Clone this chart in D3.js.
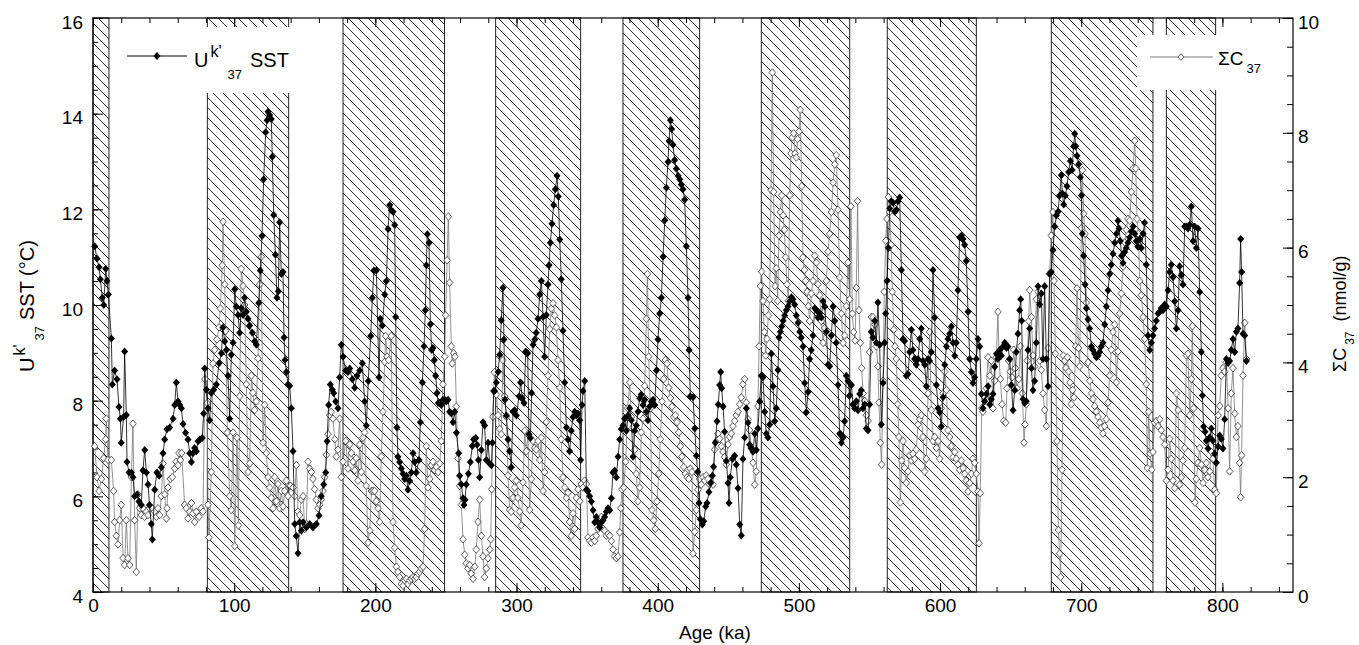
<!DOCTYPE html>
<html lang="en">
<head>
<meta charset="utf-8">
<title>Uk'37 SST and sum C37</title>
<script src="https://d3js.org/d3.v7.min.js"></script>
<style>
  body { margin: 0; background: #fff; }
  svg text { font-family: "Liberation Sans", Arial, sans-serif; fill: #000; }
</style>
</head>
<body>
<script>
// hatched intervals (ka)
const bandStart = [0, 81.0, 177.1, 285.2, 375.4, 473.4, 562.6, 678.8, 760.3];
const bandEnd   = [11.3, 138.6, 249.0, 345.4, 429.7, 536.0, 625.7, 750.8, 795.2];

// tick labels
const xLabels = [0, 100, 200, 300, 400, 500, 600, 700, 800];
const sstLabels = [4, 6, 8, 10, 12, 14, 16];
const c37Labels = [0, 2, 4, 6, 8, 10];

// Uk'37 SST (°C): [age ka, value]
const sst = [
[1.2,11.23],[2.8,10.97],[4.3,10.79],[5.2,10.54],[6.6,10.15],[7.6,10.0],[9.0,10.76],[9.9,10.5],[10.9,10.22],[13,9.3],[13.7,8.34],[15.3,8.63],[17,8.45],[18.4,7.87],[19.4,7.62],[20,7.12],[21.7,7.66],[22.4,9.03],[23.6,7.7],[24.1,6.72],[25.5,6.5],[27.2,6.5],[28.3,6.4],[29.5,6.0],[31.2,6.04],[32.6,5.89],[34.2,5.82],[35.4,6.54],[36.6,6.97],[37.8,6.5],[39,6.25],[40,5.82],[41.3,5.42],[42,5.1],[43.7,6.14],[45.3,6.5],[46.8,6.43],[48.4,6.61],[49.6,6.9],[50.8,7.19],[52.4,7.4],[54.3,7.44],[56.7,7.62],[57.9,7.91],[59,8.38],[60.2,7.98],[61.4,7.91],[62.6,7.84],[63.8,7.51],[65.6,7.33],[67.3,7.19],[68.5,6.9],[69.7,6.72],[70.8,6.9],[72,7.01],[73.2,6.94],[74.4,7.15],[75.6,7.19],[77.4,7.22],[78.4,7.73],[79.1,8.67],[80.3,8.23],[81.5,7.84],[82.6,7.59],[83.8,8.16],[85.5,8.23],[87.4,8.34],[89.3,8.78],[91,8.99],[92,9.53],[93.3,9.24],[94.5,9.06],[95.6,8.52],[96.8,7.62],[98,8.96],[99.2,9.21],[100.4,10.33],[101.5,9.97],[102.7,9.79],[103.9,9.42],[105,9.93],[106.3,9.79],[107.4,10.15],[108.6,9.86],[109.8,9.71],[111,9.57],[112.9,9.42],[114.5,9.24],[115.7,9.17],[117.4,10.04],[118.5,10.72],[119.7,11.44],[120.9,12.63],[122.3,13.61],[123.3,13.86],[124,14.04],[125.1,13.97],[126.3,13.89],[127,13.1],[128,11.88],[129.2,11.05],[130.3,10.15],[131.3,10.29],[132.2,11.73],[133.4,10.65],[134.6,10.69],[135.3,9.32],[136,8.85],[137,8.6],[138.1,8.34],[139.3,8.31],[140.5,7.84],[141.7,6.94],[142.9,5.42],[144,5.17],[145.2,4.81],[146.4,5.46],[147.6,5.28],[148.8,5.46],[151.1,5.35],[153.5,5.42],[155.8,5.35],[158.2,5.42],[160.1,5.6],[161.7,6.0],[163.4,6.25],[164.8,6.5],[165.8,7.15],[166.9,7.91],[168.1,8.34],[169.5,8.23],[170.5,8.16],[171.9,7.98],[173.5,7.84],[174.7,8.49],[175.9,9.17],[177.1,8.92],[179,8.63],[180.6,8.6],[181.8,8.67],[183.7,8.45],[185.4,8.27],[187,8.52],[188.9,8.63],[190.8,8.78],[192.4,7.98],[193.6,7.48],[195,8.41],[196.7,9.35],[197.9,10.15],[199,10.72],[200.7,10.72],[202.6,8.49],[203.5,9.71],[205,9.57],[206.6,10.22],[207.8,10.5],[209,11.59],[210.2,12.09],[211.3,11.98],
[212.5,11.95],[213.7,11.67],[214.4,9.75],[215.3,7.44],[216,6.83],[217.2,6.72],[218.4,6.58],[219.6,6.47],[220.8,6.36],[222,6.43],[223.1,6.14],[224.3,6.32],[225.5,6.5],[226.7,6.9],[227.8,6.72],[229,6.5],[230.9,6.76],[231.9,7.55],[233.3,8.38],[234.5,9.14],[235.4,9.89],[236.1,10.83],[236.8,11.48],[238,11.3],[239,9.6],[239.9,9.06],[240.8,9.1],[241.8,8.85],[242.7,8.52],[243.7,8.16],[244.6,7.95],[245.6,7.95],[246.7,7.91],[247.9,8.02],[249.1,8.02],[250.3,7.98],[251.5,8.02],[252.6,7.77],[253.8,7.73],[255,7.55],[256.2,7.77],[257.4,7.33],[259,6.9],[259.7,6.43],[260.9,6.25],[262.1,5.96],[262.8,5.82],[263.5,5.93],[264.4,6.25],[265.9,6.47],[267.3,6.72],[268.7,7.05],[269.6,7.19],[271.1,7.22],[272,7.08],[273,6.76],[273.9,6.4],[275.1,6.97],[276.3,7.55],[277.4,7.48],[278.6,6.76],[279.8,7.12],[281,6.68],[282.2,6.65],[282.9,7.12],[283.8,8.2],[284.5,8.2],[285.7,8.38],[286.9,8.6],[288.1,8.96],[289.2,9.68],[290.4,10.36],[291.1,9.28],[291.8,8.02],[292.8,7.69],[294,7.19],[295.1,6.94],[296.3,6.61],[297.5,7.77],[298.7,7.8],[299.9,7.69],[301.8,8.09],[302.9,8.38],[304.1,8.05],[305.3,7.95],[306.5,9.03],[307.9,8.99],[308.8,7.3],[309.8,7.22],[310.7,8.16],[311.7,9.17],[312.9,9.28],[314,9.42],[315.2,9.71],[316.4,10.22],[317.6,10.5],[318.8,9.75],[319.9,8.92],[321.1,9.79],[322.3,10.43],[323,10.83],[324,11.3],[325.1,11.7],[326.3,12.09],[327.5,12.42],[328.7,12.7],[329.6,12.27],[330.6,11.37],[331.7,10.54],[332.9,9.46],[334.1,8.38],[335.3,7.44],[336.5,7.19],[337.6,6.94],[338.8,7.37],[340,7.66],[341.2,7.77],[342.4,7.69],[343.6,7.73],[344.7,7.59],[345.4,6.76],[346.4,7.91],[347.1,8.2],[348.3,8.41],[349.5,6.14],[350.6,6.11],[351.8,6.0],[353,5.89],[354.2,5.71],[355.4,5.46],[356.5,5.57],[357.7,5.46],[358.9,5.35],[360.1,5.46],[361.3,5.5],[362.4,5.57],[363.6,5.68],[364.8,5.75],[366,5.71],[367.2,5.96],[368.3,6.5],[369.5,6.54],[370.7,6.4],[371.9,6.83],[373.1,7.19],[374.2,7.41],[375.4,7.48],[376.6,7.62],[377.8,7.37],[379,7.69],[380.1,7.84],[381.3,7.59],[382.5,6.83],[383.7,7.37],[384.9,7.48],[386,7.77],[387.2,8.05],[388.4,8.13],[389.6,7.91],[390.8,8.02],[392,7.77],[393.1,7.59],[394.3,7.88],[395.5,7.98],[396.7,8.02],[397.9,7.91],[399.1,8.63],[400.2,9.28],[401.4,9.82],[402.6,10.15],[403.8,11.01],[405,11.77],[406.1,12.45],[407.3,12.99],[408,13.43],[409,13.86],[409.9,13.68],[410.8,13.35],[412,13.03],[413.2,12.85],[414.4,12.7],[415.6,12.63],[416.7,12.52],[417.9,12.42],[419.1,12.2],[420.3,11.23],[421.5,10.15],[422.2,9.06],[423.1,8.09],
[425,8.07],[426.2,7.42],[427.4,6.85],[428.3,6.51],[429.3,5.86],[430.2,5.52],[431.6,5.41],[432.6,5.48],[434,5.79],[434.9,5.86],[436.3,6.09],[437.5,6.28],[438.7,6.43],[439.6,6.62],[440.8,7.12],[442,7.57],[442.9,7.92],[443.9,8.33],[444.6,8.6],[445.3,8.26],[446.3,7.88],[447.4,7.35],[448.6,6.74],[449.8,6.28],[450.5,5.86],[451.4,6.4],[452.9,6.78],[454.5,6.85],[455.7,6.66],[456.9,6.17],[458.1,5.41],[459.2,5.18],[460.4,6.78],[461.6,7.23],[462.8,7.84],[464,7.54],[465.1,7.08],[466.3,7.0],[467.5,6.93],[468.7,7.31],[469.9,6.97],[471,7.42],[472.2,7.99],[473.4,8.52],[474.6,8.49],[475.8,7.77],[476.9,7.31],[478.1,7.23],[479.3,7.5],[480.5,8.98],[481.7,8.3],[482.9,7.57],[484,7.84],[485.2,8.64],[485.9,9.32],[486.9,9.44],[487.8,9.55],[488.8,9.67],[489.9,9.78],[491.1,9.89],[492.3,9.97],[493.5,10.08],[494.7,10.16],[495.8,10.12],[497,10.01],[498.2,9.78],[499.4,9.63],[500.6,9.44],[501.7,9.32],[502.9,9.13],[504.1,8.37],[505.3,7.76],[506.5,8.18],[507.6,8.87],[508.8,9.06],[510,9.36],[511.2,9.93],[512.4,9.89],[513.5,9.74],[514.7,9.82],[515.9,9.74],[517.1,10.08],[518.3,9.97],[519.5,9.44],[520.6,8.75],[521.8,8.72],[523,9.36],[524.2,9.97],[525.4,9.67],[526.5,9.21],[527.7,8.33],[528.9,7.31],[530.1,7.12],[531.3,7.23],[532.4,7.57],[533.6,8.52],[534.8,8.41],[536,8.11],[537.2,8.33],[538.3,7.92],[539.5,7.84],[540.7,7.99],[541.9,7.8],[543.1,8.14],[544.2,8.22],[545.4,7.84],[546.6,7.92],[547.8,7.42],[549,7.38],[550.1,7.92],[551.3,9.44],[552.5,9.32],[553.7,9.67],[554.9,9.21],[556,10.05],[557.2,9.17],[558.4,7.5],[559.6,8.37],[560.8,9.21],[561.5,9.82],[562.4,10.5],[563.4,11.19],[564.3,12.02],[565.5,12.17],[566.7,12.14],[567.9,11.95],[569,11.98],[570.2,12.17],[571.4,12.25],[572.6,10.73],[573.8,9.29],[574.9,9.25],[576.1,8.52],[577.3,8.56],[578.5,9.02],[579.7,9.48],[580.8,9.06],[582,8.87],[583.2,8.75],[584.4,8.87],[585.6,9.29],[586.7,9.51],[587.9,8.83],[589.1,8.75],[590.3,8.3],[591.5,8.87],[592.6,8.83],[593.8,9.02],[595,10.73],[596.2,9.74],[597.4,8.33],[598.6,7.84],[599.7,7.76],[600.9,7.46],[602.1,8.07],[603.3,8.75],[604.5,9.13],[605.6,9.29],[606.8,9.4],[608,9.55],[609.2,9.21],[610.4,8.94],[611.5,9.21],[612.7,10.31],[613.9,11.41],[615.1,11.45],[616.3,11.38],[617.4,11.26],[618.6,10.92],[619.8,9.86],[621,8.87],[622.2,8.6],[623.3,8.37],[624.5,8.49],[625.7,8.87],[626.9,9.29],[628.1,9.13],[629.3,8.14],[630.4,7.84],[631.6,7.99],[632.8,8.14],[634,8.3],[635.2,7.92],[636.3,8.03],
[637.5,8.14],[638.7,8.71],[639.9,8.98],[641,8.87],[642.2,9.06],[643.4,8.94],[644.6,9.13],[645.8,9.21],[647,9.1],[648.1,9.13],[649.3,8.87],[650.5,8.33],[651.7,7.8],[652.9,8.22],[654,9.02],[655.2,9.4],[656.4,9.89],[657.1,10.12],[657.8,9.67],[658.8,8.03],[659.9,7.95],[661.1,7.99],[662.3,9.06],[663.5,9.51],[664.7,8.68],[665.8,8.22],[667,8.41],[668.2,9.21],[669.4,10.39],[670.6,10.01],[671.7,10.24],[672.9,8.87],[674.1,10.39],[675.3,8.87],[676.5,8.3],[677.6,10.65],[678.8,10.69],[680,11.15],[681.2,11.64],[682.4,11.87],[683.5,11.95],[684.7,12.29],[685.9,12.71],[686.6,12.33],[687.6,12.1],[688.7,12.29],[689.9,12.48],[691.1,12.78],[692.3,13.01],[693.5,12.82],[694.6,13.32],[695.4,13.58],[696.1,13.32],[697,13.12],[698.2,12.94],[699.4,12.67],[700.1,12.29],[700.8,11.49],[701.7,11.03],[702.7,10.43],[703.6,9.93],[704.8,9.7],[706,9.51],[707.2,9.13],[708.3,9.06],[709.5,8.98],[710.7,8.91],[711.9,8.94],[713.1,9.02],[714.2,9.13],[715.4,9.21],[716.6,9.59],[717.8,9.97],[719,10.31],[720.1,10.65],[721.3,10.84],[722.5,11.07],[723.7,11.3],[724.9,11.49],[726,11.76],[726.8,11.6],[727.7,11.34],[728.6,11.03],[729.6,10.88],[730.8,11.11],[731.9,11.19],[733.1,11.3],[734.3,11.41],[735.5,11.53],[736.7,11.64],[737.9,11.49],[739,11.34],[740.2,11.22],[741.4,11.38],[742.6,11.19],[743.8,11.49],[744.9,11.72],[746.1,10.84],[747.3,9.36],[748.5,9.06],[749.7,9.21],[750.8,9.36],[752,9.51],[753.2,9.67],[754.4,9.82],[755.6,9.86],[756.7,9.93],[757.9,9.89],[759.1,10.01],[760.3,9.97],[761.5,10.31],[762.6,10.69],[763.8,10.84],[765,10.58],[766.2,10.08],[767.4,9.51],[768.6,9.89],[769.7,10.81],[770.9,10.62],[772.1,10.43],[773.3,11.64],[774.5,11.64],[775.6,11.6],[776.8,11.68],[778,12.06],[779.2,11.34],[780.4,11.64],[781.5,11.19],[782.7,11.6],[783.9,10.27],[785.1,9.02],[785.8,8.11],[786.7,7.46],[787.7,7.35],[788.6,7.16],[789.8,7.0],[791,7.23],[792.2,7.42],[793.3,7.16],[794.5,6.89],[795.7,6.7],[796.9,7.04],[798.1,7.27],[799.2,7.2],[800.4,7.0],[801.6,7.61],[802.8,8.87],[804,8.79],[805.1,8.83],[806.3,9.06],[807.5,9.29],[808.7,9.02],[809.9,9.44],[811,9.51],[812.2,10.46],[812.9,11.38],[813.6,10.69],[814.6,9.4],[815.8,9.36],[817,8.83]
];

// sum C37 (nmol/g): [age ka, value]
const c37 = [
[1.2,2.54],[2.8,2.0],[4.3,1.76],[5.9,1.97],[7.6,2.33],[9.0,2.66],[9.4,3.02],[10.6,2.3],[13,2.3],[14.6,1.76],[15.3,1.22],[16.5,0.98],[17.7,0.83],[18.9,1.25],[20,1.52],[21.3,0.59],[22.4,0.47],[23.6,1.25],[24.8,0.59],[26,0.47],[27.2,2.0],[28.3,2.93],[29.5,1.25],[30.7,0.35],[31.9,1.7],[33,1.46],[34.2,1.34],[35.4,1.46],[36.6,1.31],[37.8,1.4],[39,1.34],[40,1.46],[42,1.46],[43.7,1.4],[44.9,1.31],[46,1.46],[47.2,1.34],[48.4,1.67],[49.6,2.24],[50.8,1.7],[52,1.28],[52.4,1.46],[53.1,1.82],[54.8,1.97],[56.2,2.0],[57.9,2.15],[59,2.27],[60.2,2.21],[60.9,2.42],[61.9,2.3],[62.8,2.42],[64.9,1.52],[66.1,1.46],[67.3,1.28],[68.5,1.4],[69.7,1.55],[70.8,1.37],[72,1.22],[73.2,1.4],[75.1,1.31],[76.7,1.46],[77.9,1.4],[79.3,3.71],[80.8,3.29],[81.5,1.52],[82.2,0.95],[83.8,2.09],[85,3.98],[86.2,4.22],[87.8,4.4],[89.3,4.61],[90.2,4.94],[91.6,5.69],[92.1,6.45],[93.3,5.36],[94,4.55],[95.2,2.78],[96.8,1.67],[98,1.43],[99.2,2.78],[100.4,0.8],[102,2.69],[103,1.16],[103.9,3.41],[105,5.63],[106.3,5.33],[107.4,5.0],[108.6,3.62],[109.8,2.09],[111,2.24],[112.2,3.77],[113.3,3.47],[114.5,3.17],[115.7,3.32],[116.9,4.07],[118,5.36],[119.2,5.84],[120.4,2.6],[121.6,3.26],[122.8,2.42],[124,2.0],[125.1,1.82],[126.3,1.64],[127.5,1.46],[128.7,2.0],[129.9,1.58],[131,1.88],[132.2,1.46],[133.4,1.76],[134.6,1.49],[135.8,1.76],[137,1.94],[138.1,1.67],[139.8,1.85],[141.7,1.82],[142.9,1.67],[144,2.21],[145.2,1.4],[146.4,1.34],[147.6,1.61],[148.8,1.67],[150,1.1],[151.1,1.19],[152.3,2.27],[153.5,2.15],[154.7,2.09],[155.8,1.97],[157,1.79],[158.2,1.61],[159.4,1.46],[160.6,1.52],[161.7,1.61],[162.9,1.76],[164.1,2.0],[165.3,2.39],[166.5,2.75],[167.7,3.08],[168.8,3.14],[170,3.02],[171.2,2.66],[172.4,2.36],[173.5,2.48],[174.7,3.02],[175.9,2.0],[177.1,2.27],[179,2.63],[180.6,2.15],[181.8,2.57],[183,2.42],[184.2,2.27],[185.4,2.12],[186.5,2.33],[187.7,1.94],[188.9,2.57],[190.1,2.09],[191.3,2.69],[192.4,2.78],[193.6,1.85],[194.8,0.86],[196,1.07],[197.2,1.76],[198.3,1.76],[199.5,1.76],[200.7,1.58],[201.9,1.46],[203,1.22],[204.2,2.36],[205.4,3.14],[206.6,4.01],[207.3,4.46],[208.3,4.1],[209.4,4.04],[211.3,4.46],
[212.5,1.22],[213.7,0.77],[214.9,0.44],[216,0.35],[217.2,0.26],[218.4,0.14],[219.6,0.11],[220.8,0.2],[222,0.23],[223.1,0.14],[224.3,0.2],[225.5,0.23],[226.7,0.26],[227.8,0.23],[229,0.26],[230.2,0.32],[231.4,0.35],[232.6,0.41],[233.8,0.44],[234.9,1.1],[236.1,2.54],[237.3,1.82],[238.5,1.97],[239.7,2.21],[240.8,2.27],[242,2.12],[243.2,2.18],[244.4,2.09],[245.6,2.24],[246.7,2.63],[247.9,3.62],[249.1,4.1],[249.8,4.82],[250.8,5.78],[251.7,6.54],[252.6,5.39],[253.8,4.28],[254.5,3.98],[255.5,4.16],[256.4,4.1],[257.4,3.23],[258.5,2.33],[259.7,1.85],[260.9,1.52],[262.1,0.92],[263.3,0.65],[264.4,0.5],[265.6,0.41],[266.8,0.47],[268,0.32],[269.2,0.23],[270.4,0.44],[271.5,0.74],[272.7,1.22],[273.9,1.61],[275.1,0.98],[276.3,0.62],[277.4,0.26],[278.6,0.41],[279.8,0.59],[281,0.74],[281.7,0.92],[282.4,1.79],[283.3,3.05],[284.3,3.83],[285.7,3.44],[286.9,3.08],[288.1,2.84],[289.2,2.75],[290.4,4.04],[291.6,3.41],[292.8,3.05],[294,2.03],[295.1,1.43],[296.3,1.4],[297.5,1.64],[298.7,1.82],[299.9,1.94],[301,1.64],[302.2,1.4],[303.4,1.16],[304.6,1.91],[305.8,2.81],[307,2.45],[308.1,2.75],[309.3,1.43],[310.5,1.97],[311.7,2.63],[312.9,2.51],[314,2.48],[315.2,2.63],[316.4,2.3],[317.6,2.69],[318.8,1.76],[319.9,2.09],[321.1,2.96],[322.3,3.77],[323.5,4.58],[324.7,4.94],[325.8,5.03],[327,4.82],[328.2,4.61],[329.4,4.04],[330.6,3.56],[331.7,2.66],[332.9,2.0],[334.1,1.82],[335.3,1.64],[336.5,1.73],[337.6,1.22],[338.8,0.98],[340,1.37],[341.2,1.1],[342.4,1.64],[343.6,1.79],[344.7,1.58],[345.9,1.88],[347.1,1.82],[348.3,1.94],[349.5,1.88],[350.6,0.95],[351.8,0.89],[353,0.86],[354.2,0.95],[355.4,0.89],[356.5,0.98],[357.7,1.1],[358.9,1.22],[360.1,1.31],[361.3,1.1],[362.4,1.07],[363.6,0.98],[364.8,1.01],[366,0.98],[367.2,0.89],[368.3,0.74],[369.5,0.62],[370.7,0.59],[371.9,0.62],[373.1,1.04],[373.8,1.46],[374.7,1.79],[375.9,1.82],[377.3,2.27],[378.7,3.2],[380.2,3.65],[381.3,3.05],[382.5,2.87],[383.7,2.48],[384.9,2.06],[386,1.58],[387.2,1.82],[388.4,2.78],[389.6,3.02],[390.8,3.59],[392,4.76],[392.7,5.54],[393.6,4.1],[394.8,3.2],[396,1.43],[397.2,1.25],[398.3,1.1],[399.5,1.58],[400.7,2.06],[401.9,2.66],[403.1,3.32],[404.2,3.71],[405.4,4.04],[406.6,3.98],[407.8,3.56],[409,3.38],[410.1,3.23],[411.3,3.05],[412.5,3.08],[413.7,2.96],[414.9,2.78],[416,2.54],[417.2,2.36],[418.4,2.18],[419.6,2.06],[420.8,2.0],[422,1.97],[423.1,2.15],[424.3,2.09],
[425,0.67],[426.2,1.05],[427.4,1.43],[428.5,1.78],[429.7,1.97],[430.9,1.87],[432.1,2.0],[433.3,1.94],[434.4,2.03],[435.6,1.97],[436.8,1.87],[438,1.9],[439.2,1.87],[440.3,2.48],[441.5,2.63],[442.7,2.76],[443.9,2.67],[445.1,2.54],[446.3,2.44],[447.4,2.35],[448.6,2.22],[449.8,2.57],[451,2.7],[452.2,2.76],[453.3,2.89],[454.5,2.98],[455.7,3.08],[456.9,3.14],[458.1,3.27],[459.2,3.39],[460.4,3.62],[461.6,3.71],[462.8,3.3],[464,3.01],[465.1,2.82],[466.3,2.51],[467.5,2.25],[468.7,1.87],[469.9,2.1],[471,3.24],[471.8,4.28],[472.7,5.33],[473.6,5.58],[474.6,5.07],[475.5,4.53],[476.5,4.12],[477.4,4.41],[478.4,4.82],[479.3,5.1],[480.3,7.0],[481.2,9.05],[482.1,6.97],[483.1,5.33],[484,5.64],[485,5.07],[485.9,6.21],[486.9,6.62],[487.8,6.91],[488.8,6.56],[489.7,6.31],[490.6,5.83],[491.6,5.36],[492.5,5.07],[493.5,6.91],[494.4,7.64],[495.4,7.92],[496.3,7.99],[497.3,7.64],[498.2,7.57],[499.1,7.89],[500.1,8.02],[501,8.4],[502,7.07],[502.9,5.83],[503.9,5.61],[504.8,5.42],[505.8,5.23],[506.7,4.98],[507.6,4.72],[508.8,5.2],[510,5.42],[511.2,5.86],[512.4,5.74],[513.5,5.36],[514.7,5.17],[515.9,4.72],[517.1,4.34],[518.3,4.6],[519.5,5.42],[520.6,5.93],[521.8,6.24],[523,6.62],[524.2,7.13],[525.4,7.45],[526.5,7.61],[527.7,6.66],[528.9,5.48],[530.1,4.85],[531.3,4.34],[532.4,4.47],[533.6,4.98],[534.8,5.74],[536,5.1],[536.9,6.72],[537.9,4.85],[538.8,4.53],[539.8,4.38],[540.7,5.3],[541.6,6.81],[542.6,4.91],[543.5,4.34],[544.5,3.9],[545.4,3.46],[546.6,3.33],[547.8,3.08],[549,2.98],[550.1,4.18],[551.3,4.79],[552.5,4.79],[553.7,4.66],[554.9,4.28],[556,3.93],[556.7,3.3],[557.7,2.6],[558.6,2.22],[559.6,3.68],[560.5,5.23],[561.5,6.12],[562.4,6.5],[563.4,6.88],[564.3,6.62],[565.3,6.05],[566.2,5.23],[567.2,4.57],[568.1,4.28],[569,4.06],[570,3.27],[570.9,2.7],[571.9,1.56],[572.8,2.29],[573.8,2.63],[574.9,2.16],[576.1,1.9],[577.3,2.1],[578.5,2.38],[579.7,2.29],[580.8,2.41],[582,2.32],[583.2,2.48],[584.4,2.92],[585.6,3.01],[586.7,3.08],[587.9,2.7],[589.1,2.1],[590.3,2.32],[591.5,3.46],[592.6,4.53],[593.8,3.17],[595,2.63],[596.2,2.7],[597.4,2.51],[598.6,2.63],[599.7,2.32],[600.9,3.2],[602.1,3.46],[603.3,3.84],[604.5,3.52],[605.6,2.82],[606.8,2.7],[608,2.54],[609.2,2.35],[610.4,2.44],[611.5,2.32],[612.7,2.22],[613.9,2.13],[615.1,2.29],[616.3,2.16],[617.4,2.06],[618.6,1.94],[619.8,1.75],[621,1.9],[622.2,2.06],[623.3,2.32],[624.5,2.25],[625.7,2.06],[626.9,1.75],[627.6,0.85],[628.5,1.72],[629.5,3.2],[630.4,3.14],[631.6,3.39],[632.8,3.55],[634,4.09],[635.2,3.77],[636.3,4.03],
[637.5,3.2],[638.7,3.68],[639.9,4.09],[641,4.88],[641.8,4.09],[642.7,3.71],[643.9,3.27],[645.1,2.98],[646.5,2.95],[647.4,3.55],[648.6,4.03],[649.8,3.84],[651,3.74],[652.1,4.22],[653.3,3.9],[654.5,3.55],[655.7,3.71],[656.9,4.28],[658.3,3.46],[659.5,2.6],[660.2,2.92],[661.1,3.27],[661.8,4.03],[662.8,4.72],[663.5,5.26],[664.7,4.79],[665.8,4.12],[667,3.93],[668.2,5.1],[669.4,5.23],[670.6,4.03],[671.7,3.87],[672.9,3.46],[674.1,3.17],[675.3,2.89],[676.5,4.25],[677.6,5.55],[678.8,6.21],[680,6.62],[680.7,5.42],[681.7,4.15],[682.8,2.63],[683.8,1.08],[684.7,0.67],[685.4,0.26],[686.4,2.13],[687.3,4.12],[688.3,4.03],[689.2,3.9],[690.2,4.09],[691.1,3.84],[692,3.65],[693,3.27],[693.9,3.52],[694.9,3.39],[696.1,4.28],[697,5.29],[698,4.25],[698.9,3.93],[700.1,6.34],[700.8,7.35],[701.7,6.59],[702.7,6.24],[703.6,5.04],[704.8,4.0],[706,3.68],[707.2,3.46],[708.3,3.36],[709.5,3.24],[710.7,3.14],[711.9,3.05],[713.1,2.95],[714.2,2.86],[715.4,2.76],[716.6,2.89],[717.8,3.01],[719,3.3],[720.1,3.77],[721.3,4.22],[722.5,4.53],[723.7,4.66],[724.9,3.65],[726,4.19],[727.2,4.85],[728.4,5.2],[729.6,5.67],[730.8,6.09],[731.9,6.31],[733.1,6.5],[734.3,6.47],[735.5,6.97],[736.7,7.38],[737.9,7.86],[738.6,7.38],[739.5,6.5],[740.5,6.24],[741.4,5.42],[742.6,5.17],[743.8,4.79],[744.9,4.41],[746.1,3.62],[746.8,2.16],[747.8,3.14],[748.7,2.41],[749.9,2.13],[750.8,2.44],[752,2.95],[753.2,2.98],[754.4,2.89],[755.6,3.01],[756.7,2.82],[757.9,2.7],[759.1,2.57],[760.3,1.94],[761.5,2.13],[762.6,2.67],[763.8,2.32],[765,1.94],[766.2,1.81],[767.4,3.46],[768.6,3.17],[769.7,1.87],[770.9,2.0],[772.1,2.29],[773.3,2.51],[774.5,4.12],[775.6,4.15],[776.8,3.08],[778,3.71],[778.7,4.63],[779.6,3.2],[780.6,1.56],[781.5,1.97],[782.7,2.25],[783.9,2.51],[785.1,2.22],[786.3,1.9],[787.4,2.13],[788.6,2.25],[789.8,2.0],[791,2.1],[792.2,2.44],[793.3,2.32],[794.5,1.78],[795.7,1.72],[796.9,3.08],[798.1,3.24],[799.2,3.77],[800.4,3.9],[801.6,3.84],[802.8,4.0],[804,3.2],[805.1,2.1],[806.3,3.46],[807.5,3.9],[808.7,3.11],[809.9,2.7],[811,2.89],[812.2,2.25],[812.9,1.65],[813.6,2.38],[814.6,3.77],[815.8,4.69],[817,4.06]
];

// svg
const width = 1359, height = 645;
const svg = d3.select("body").append("svg")
  .attr("width", width)
  .attr("height", height);

const x = d3.scaleLinear().domain([0, 850]).range([93, 1293]);
const yL = d3.scaleLinear().domain([4, 16]).range([592, 18]);
const yR = d3.scaleLinear().domain([0, 10]).range([592, 18]);

// hatch pattern, lines running top-left to bottom-right
const hs = 10;
const defs = svg.append("defs");
defs.append("pattern")
  .attr("id", "hatch")
  .attr("patternUnits", "userSpaceOnUse")
  .attr("width", hs).attr("height", hs)
  .append("path")
  .attr("d", `M0,0L${hs},${hs}M${-2},${hs - 2}L2,${hs + 2}M${hs - 2},-2L${hs + 2},2`)
  .attr("stroke", "#000").attr("stroke-width", 0.85);

// bands
svg.append("g").selectAll("rect")
  .data(bandStart)
  .join("rect")
  .attr("x", (d, i) => x(d))
  .attr("y", yL(16))
  .attr("width", (d, i) => x(bandEnd[i]) - x(d))
  .attr("height", yL(4) - yL(16))
  .attr("fill", "url(#hatch)")
  .attr("stroke", "#222")
  .attr("stroke-width", 1);

// white legend boxes sit over the hatching
svg.append("rect").attr("x", 110).attr("y", 27).attr("width", 190).attr("height", 66).attr("fill", "#fff");
svg.append("rect").attr("x", 1137).attr("y", 35).attr("width", 145).attr("height", 55).attr("fill", "#fff");

// axes (ticks point inward)
function styleAxis(g) {
  g.select(".domain").remove();
  g.selectAll("line").attr("stroke", "#000");
  g.selectAll("text").style("font-family", "'Liberation Sans', Arial, sans-serif").style("font-size", "19px");
}

svg.append("g").attr("transform", "translate(0,592)")
  .call(d3.axisBottom(x).tickValues(d3.range(0, 851, 20)).tickSize(-5).tickFormat(""))
  .call(styleAxis);
svg.append("g").attr("transform", "translate(0,592)")
  .call(d3.axisBottom(x).tickValues(xLabels).tickSize(-9).tickPadding(7).tickFormat(d3.format("d")))
  .call(styleAxis);
svg.append("g").attr("transform", "translate(0,18)")
  .call(d3.axisTop(x).tickValues(d3.range(0, 851, 20)).tickSize(-5).tickFormat(""))
  .call(styleAxis);
svg.append("g").attr("transform", "translate(0,18)")
  .call(d3.axisTop(x).tickValues(xLabels).tickSize(-9).tickFormat(""))
  .call(styleAxis);

svg.append("g").attr("transform", "translate(93,0)")
  .call(d3.axisLeft(yL).tickValues(d3.range(4, 16.01, 0.5)).tickSize(-5).tickFormat(""))
  .call(styleAxis);
svg.append("g").attr("transform", "translate(93,0)")
  .call(d3.axisLeft(yL).tickValues(sstLabels).tickSize(-10).tickPadding(10).tickFormat(d3.format("d")))
  .call(styleAxis)
  .selectAll("text").attr("dy", "0.53em");

svg.append("g").attr("transform", "translate(1293,0)")
  .call(d3.axisRight(yR).tickValues(d3.range(0, 10.01, 0.5)).tickSize(-6).tickFormat(""))
  .call(styleAxis);
svg.append("g").attr("transform", "translate(1293,0)")
  .call(d3.axisRight(yR).tickValues(c37Labels).tickSize(-10).tickPadding(5).tickFormat(d3.format("d")))
  .call(styleAxis)
  .selectAll("text").attr("dy", "0.53em");

// frame
svg.append("rect")
  .attr("x", 93).attr("y", 18)
  .attr("width", 1200).attr("height", 574)
  .attr("fill", "none").attr("stroke", "#000").attr("stroke-width", 1.2);

// series
const diamond = (w, h) => `M0,${-h}L${w},0L0,${h}L${-w},0Z`;

const lineC = d3.line().x(d => x(d[0])).y(d => yR(d[1]));
const lineS = d3.line().x(d => x(d[0])).y(d => yL(d[1]));

svg.append("path").datum(c37)
  .attr("d", lineC).attr("fill", "none")
  .attr("stroke", "#777").attr("stroke-width", 0.8);

svg.append("g").selectAll("path")
  .data(c37)
  .join("path")
  .attr("d", diamond(3.3, 3.8))
  .attr("transform", d => `translate(${x(d[0])},${yR(d[1])})`)
  .attr("fill", "#fff").attr("stroke", "#333").attr("stroke-width", 0.8);

svg.append("path").datum(sst)
  .attr("d", lineS).attr("fill", "none")
  .attr("stroke", "#000").attr("stroke-width", 0.8);

svg.append("g").selectAll("path")
  .data(sst)
  .join("path")
  .attr("d", diamond(3.5, 4.0))
  .attr("transform", d => `translate(${x(d[0])},${yL(d[1])})`)
  .attr("fill", "#000");

// legend
svg.append("line").attr("x1", 127).attr("x2", 187).attr("y1", 56).attr("y2", 56)
  .attr("stroke", "#000").attr("stroke-width", 1);
svg.append("path").attr("d", diamond(3.5, 4.0)).attr("transform", "translate(157,56)").attr("fill", "#000");
const lt = svg.append("text").attr("x", 194).attr("y", 67).style("font-size", "20px");
lt.append("tspan").text("U");
lt.append("tspan").attr("dx", 2).attr("dy", -10).style("font-size", "16px").text("k'");
lt.append("tspan").attr("dx", 6).attr("dy", 22).style("font-size", "13px").text("37");
lt.append("tspan").attr("dx", 8).attr("dy", -12).text("SST");

svg.append("line").attr("x1", 1150).attr("x2", 1213).attr("y1", 57).attr("y2", 57)
  .attr("stroke", "#777").attr("stroke-width", 1);
svg.append("path").attr("d", diamond(3.0, 3.4)).attr("transform", "translate(1181,57)")
  .attr("fill", "#fff").attr("stroke", "#333").attr("stroke-width", 0.8);
const rt = svg.append("text").attr("x", 1218).attr("y", 65).style("font-size", "19px");
rt.append("tspan").text("ΣC");
rt.append("tspan").attr("dx", 3).attr("dy", 8).style("font-size", "13px").text("37");

// axis titles
svg.append("text")
  .attr("x", 715).attr("y", 639)
  .attr("text-anchor", "middle")
  .style("font-size", "19px")
  .text("Age (ka)");

const yt = svg.append("text")
  .attr("transform", "translate(34,372) rotate(-90)")
  .style("font-size", "20px");
yt.append("tspan").text("U");
yt.append("tspan").attr("dx", 2).attr("dy", -9).style("font-size", "16px").text("k'");
yt.append("tspan").attr("dx", 4).attr("dy", 19).style("font-size", "13px").text("37");
yt.append("tspan").attr("dx", 6).attr("dy", -10).text("SST (°C)");

const rtt = svg.append("text")
  .attr("transform", "translate(1346,372) rotate(-90)")
  .style("font-size", "18px");
rtt.append("tspan").text("ΣC");
rtt.append("tspan").attr("dx", 3).attr("dy", 8).style("font-size", "12px").text("37");
rtt.append("tspan").attr("dx", 10).attr("dy", -8).text("(nmol/g)");
</script>
</body>
</html>
